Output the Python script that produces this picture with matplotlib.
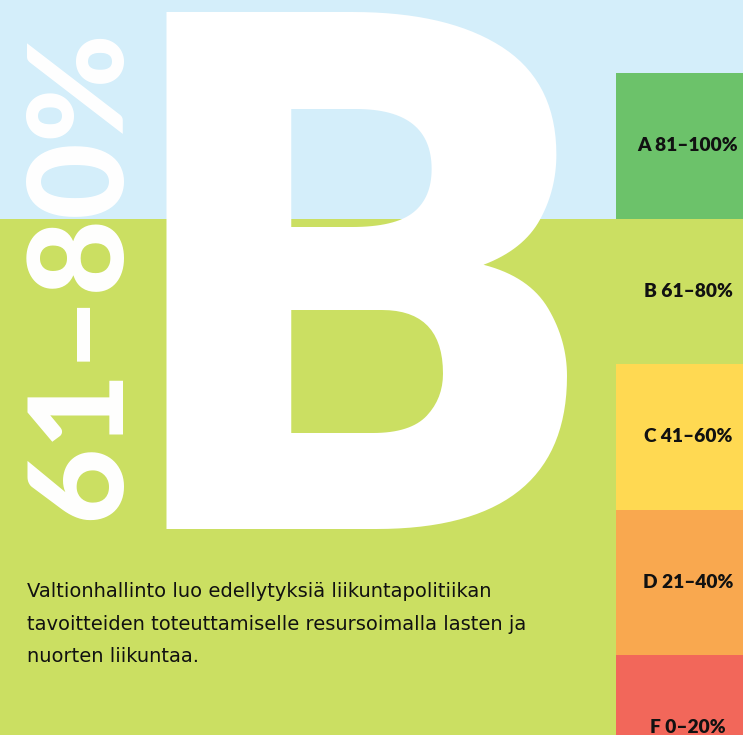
import matplotlib
matplotlib.use("Agg")
import matplotlib.pyplot as plt

# grade scale on the right
grades = ["A", "B", "C", "D", "F"]
ranges = ["81–100%", "61–80%", "41–60%", "21–40%", "0–20%"]
band_colors = ["#6cc26a", "#cbdf62", "#ffd952", "#f9a84f", "#f2675a"]

current_grade = "B"
current_range = "61–80%"
body_lines = [
    "Valtionhallinto luo edellytyksiä liikuntapolitiikan",
    "tavoitteiden toteuttamiselle resursoimalla lasten ja",
    "nuorten liikuntaa.",
]

sky = "#d4eefa"
lime = "#cbdf62"

W, H = 743, 735
fig = plt.figure(figsize=(W / 100, H / 100), dpi=100, facecolor=lime)
ax = fig.add_axes([0, 0, 1, 1])
ax.set_xlim(0, W)
ax.set_ylim(H, 0)
ax.axis("off")
ax.set_facecolor(lime)

# backgrounds
ax.axhspan(0, 219, color=sky, lw=0, zorder=0)
ax.axhspan(219, H, color=lime, lw=0, zorder=0)

# grade bands
band_top, band_h = 73, 145.5
bottoms = [band_top + i * band_h for i in range(len(grades))]
ax.bar([679.5] * len(grades), [band_h] * len(grades), width=127, bottom=bottoms,
       color=band_colors, lw=0, zorder=1)
for g, r, b in zip(grades, ranges, bottoms):
    ax.text(688, b + band_h / 2, f"{g} {r}", ha="center", va="center",
            fontsize=13.8, fontweight="heavy", family="Lato", color="#111111", zorder=3)

# big letter
ax.text(126, 529, current_grade, ha="left", va="baseline", fontsize=524,
        fontweight="black", family="Roboto", color="white", zorder=2)

# vertical range label
ax.text(119, 520, current_range, rotation=90, ha="left", va="baseline",
        rotation_mode="anchor", fontsize=95, fontweight="black", family="Lato",
        color="white", zorder=2)

# body text
for i, line in enumerate(body_lines):
    ax.text(27, 597 + i * 32.5, line, ha="left", va="baseline", fontsize=14,
            family="DejaVu Sans", color="#111111", zorder=3)

fig.savefig("out.png", dpi=100, facecolor=lime)
